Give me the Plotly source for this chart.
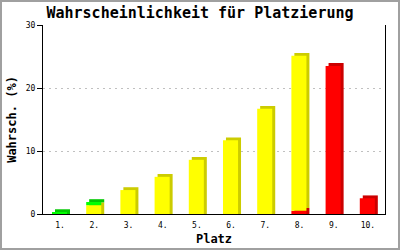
import numpy as np
import plotly.graph_objects as go

categories = ["1.", "2.", "3.", "4.", "5.", "6.", "7.", "8.", "9.", "10."]
green = [0.3, 0.5, 0, 0, 0, 0, 0, 0, 0, 0]
yellow = [0, 1.4, 3.8, 5.9, 8.6, 11.7, 16.7, 24.6, 0, 0]
red = [0, 0, 0, 0, 0, 0, 0, 0.5, 23.5, 2.5]
y_ticks = [0, 10, 20, 30]

# stack order bottom -> top: red, yellow, green
series = [
    ("red", red, "#ff0000", "#cc0000"),
    ("yellow", yellow, "#ffff00", "#cccc00"),
    ("green", green, "#00ff00", "#00c800"),
]

x = np.arange(len(categories))
depth = 0.45  # 3D extrusion in value units
W, H = 400, 250
ml, mr, mt, mb = 43, 15, 25, 36

fig = go.Figure()
cum = np.zeros(len(categories))
backs, fronts = [], []
for name, vals, col, dark in series:
    v = np.array(vals, dtype=float)
    mask = v > 0
    base_back = np.where(cum == 0, 0.0, cum + depth)
    h_back = cum + v + depth - base_back
    backs.append(go.Bar(x=x[mask], y=h_back[mask], base=base_back[mask],
                        offset=-0.15, width=0.44, marker=dict(color=dark, line=dict(width=0)),
                        hoverinfo="skip", showlegend=False))
    fronts.append(go.Bar(x=x[mask], y=v[mask], base=cum[mask],
                         offset=-0.237, width=0.44, marker=dict(color=col, line=dict(width=0)),
                         hoverinfo="skip", showlegend=False, name=name))
    cum = cum + v

for t in backs + fronts:
    fig.add_trace(t)

mono = "DejaVu Sans Mono"
fig.update_layout(
    width=W, height=H,
    margin=dict(l=ml, r=mr, t=mt, b=mb, pad=0),
    barmode="overlay",
    plot_bgcolor="white", paper_bgcolor="white",
    title=dict(text="<b>Wahrscheinlichkeit für Platzierung</b>", x=0.5, xanchor="center",
               y=1 - 13 / H, yanchor="middle", font=dict(family=mono, size=15, color="black")),
    xaxis=dict(range=[-0.5, 9.5], tickvals=x, ticktext=categories, showgrid=False,
               showline=True, linecolor="black", linewidth=1, ticks="outside", ticklen=3,
               tickcolor="rgba(0,0,0,0)", zeroline=False, automargin=False,
               tickfont=dict(family=mono, size=8, color="black"),
               title=dict(text="<b>Platz</b>", font=dict(family=mono, size=12, color="black"),
                          standoff=6)),
    yaxis=dict(range=[0, 30], tickvals=y_ticks, showgrid=True, gridcolor="#c0c0c0",
               griddash="2px,4px", gridwidth=1, showline=True, mirror=True, linecolor="black",
               linewidth=1, ticks="outside", ticklen=5, tickcolor="black", zeroline=False,
               automargin=False,
               tickfont=dict(family=mono, size=8, color="black"),
               title=dict(text="<b>Wahrsch. (%)</b>", font=dict(family=mono, size=12, color="black"),
                          standoff=6)),
)

pw, ph = W - ml - mr, H - mt - mb
fig.add_shape(type="rect", xref="paper", yref="paper",
              x0=(-ml + 1) / pw, x1=(W - ml - 1) / pw,
              y0=(-mb + 1) / ph, y1=(H - mb - 1) / ph,
              line=dict(color="#a0a0a0", width=2), fillcolor="rgba(0,0,0,0)", layer="above")

fig.write_html("out.html")
